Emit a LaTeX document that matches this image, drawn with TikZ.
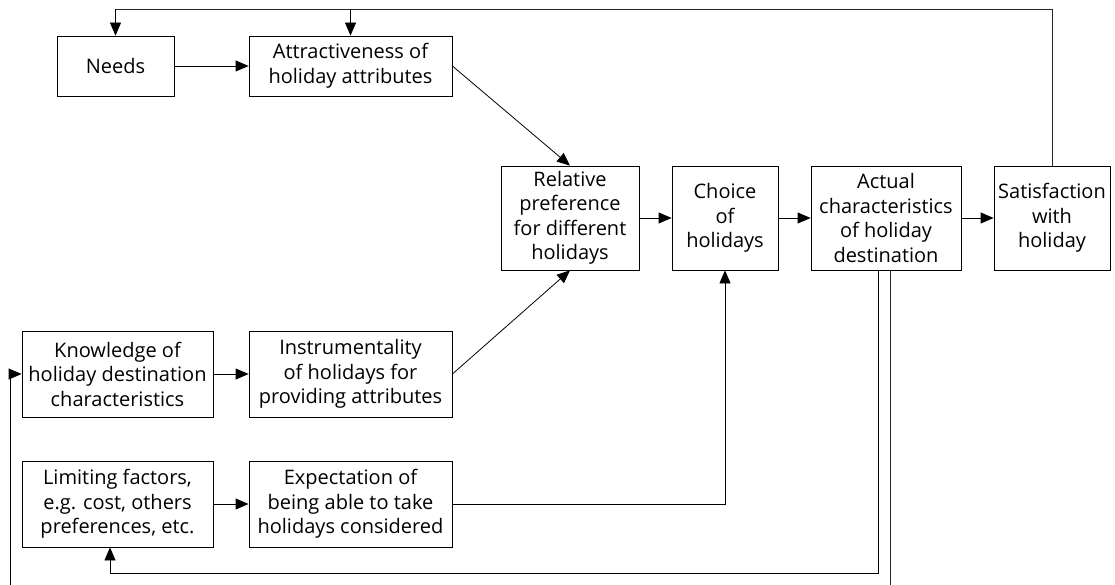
\documentclass[tikz,border=0pt]{standalone}
\usepackage{fontspec}
\setmainfont{Open Sans}
\usetikzlibrary{arrows.meta}
\begin{document}
\begin{tikzpicture}[x=1pt,y=-1pt,
  box/.style={draw=black,line width=0.8pt,align=center,inner sep=0pt,
    font=\fontsize{20}{24.5}\selectfont},
  link/.style={draw=black,line width=0.8pt,-{Triangle[length=13pt,width=11pt]}},
  wire/.style={draw=black!85,line width=0.9pt}]
\useasboundingbox (0,0) rectangle (1115,585);

% top row
\node[box,minimum width=117pt,minimum height=60pt] (needs) at (115.5,66) {Needs};
\node[box,minimum width=203pt,minimum height=60pt] (attr) at (350.5,66) {Attractiveness of\\holiday attributes};

% middle row
\node[box,minimum width=138pt,minimum height=104pt] (rel) at (570,218) {Relative\\preference\\for different\\holidays};
\node[box,minimum width=106pt,minimum height=104pt] (choice) at (725,218) {Choice\\of\\holidays};
\node[box,minimum width=150pt,minimum height=104pt] (actual) at (886,218) {Actual\\characteristics\\of holiday\\destination};
\node[box,minimum width=116pt,minimum height=104pt] (sat) at (1052,218) {Satisfaction\\with\\holiday};

% lower rows
\node[box,minimum width=191pt,minimum height=86pt] (know) at (117.5,374) {Knowledge of\\holiday destination\\characteristics};
\node[box,minimum width=203pt,minimum height=86pt] (instr) at (350.5,374) {Instrumentality\\of holidays for\\providing attributes};
\node[box,minimum width=191pt,minimum height=86pt] (limit) at (117.5,504) {Limiting factors,\\e.g. cost, others\\preferences, etc.};
\node[box,minimum width=203pt,minimum height=86pt] (expect) at (350.5,504) {Expectation of\\being able to take\\holidays considered};

% free ends and bends of the feedback lines
\coordinate (topy) at (0,9.5);
\coordinate (boty) at (0,573);
\coordinate (knowin) at (10,585);
\coordinate (actout) at (890,585);
\coordinate (actdown) at ([xshift=-8pt]actual.south);
\coordinate (limitup) at ([xshift=-7.5pt]limit.south);

% forward links
\draw[link] (needs) -- (attr);
\draw[link] (attr.east) -- (rel.north);
\draw[link] (instr.east) -- (rel.south);
\draw[link] (rel) -- (choice);
\draw[link] (choice) -- (actual);
\draw[link] (actual) -- (sat);
\draw[link] (know) -- (instr);
\draw[link] (limit) -- (expect);
\draw[link] (expect.east) -| (choice.south);

% feedback from satisfaction
\draw[wire] (sat.north) |- (topy -| needs.north);
\draw[link] (topy -| needs.north) -- (needs.north);
\draw[link] (topy -| attr.north) -- (attr.north);

% feedback from actual characteristics
\draw[link] (actdown) -- (actdown |- boty) -- (limitup |- boty) -- (limitup);
\draw[wire] ([xshift=4pt]actual.south) -- (actout);
\draw[link] (knowin) |- (know.west);
\end{tikzpicture}
\end{document}
